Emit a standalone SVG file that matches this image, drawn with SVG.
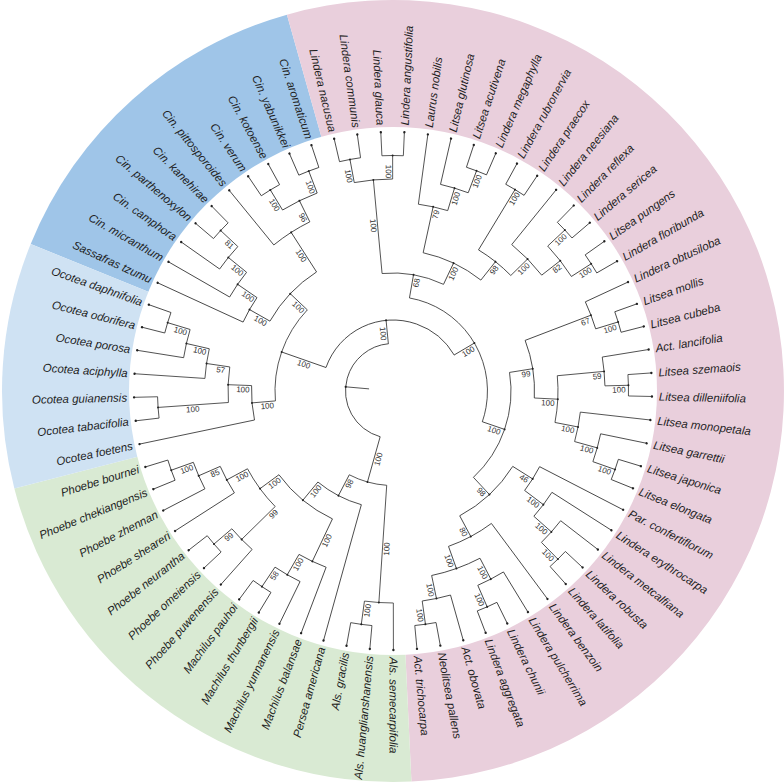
<svg xmlns="http://www.w3.org/2000/svg" xmlns:xlink="http://www.w3.org/1999/xlink" width="784" height="784" viewBox="0 0 784 784">
<style>
#connectors{fill:none;stroke:#333;stroke-width:0.8}
.d{fill:#222}
.t{font-family:"Liberation Sans",Arial,Helvetica,sans-serif;font-size:11.5px;font-style:italic;fill:#1e1e1e}
.tf{text-anchor:end}
.b{font-family:"Liberation Sans",Arial,Helvetica,sans-serif;font-size:8px;fill:#333;text-anchor:end}
.bf{text-anchor:middle}
</style>
<defs>
<path id="c0" d="M47.5 0A47.5 47.5 0 0 1 -47.5 0A47.5 47.5 0 0 1 47.5 0"/>
<path id="c1" d="M71 0A71 71 0 0 1 -71 0A71 71 0 0 1 71 0"/>
<path id="c2" d="M94.5 0A94.5 94.5 0 0 1 -94.5 0A94.5 94.5 0 0 1 94.5 0"/>
<path id="c3" d="M118 0A118 118 0 0 1 -118 0A118 118 0 0 1 118 0"/>
<path id="c4" d="M141.5 0A141.5 141.5 0 0 1 -141.5 0A141.5 141.5 0 0 1 141.5 0"/>
<path id="c5" d="M165 0A165 165 0 0 1 -165 0A165 165 0 0 1 165 0"/>
<path id="c6" d="M188.5 0A188.5 188.5 0 0 1 -188.5 0A188.5 188.5 0 0 1 188.5 0"/>
<path id="c7" d="M212 0A212 212 0 0 1 -212 0A212 212 0 0 1 212 0"/>
<path id="c8" d="M235.5 0A235.5 235.5 0 0 1 -235.5 0A235.5 235.5 0 0 1 235.5 0"/>
</defs>
<rect width="784" height="784" fill="#fff"/>
<g id="sectors" transform="translate(393 391)">
<path fill="#9FC5E8" d="M0 0L-362.32 -146.98A391 391 0 0 1 -106.07 -376.34Z"/>
<path fill="#E9CFDC" d="M0 0L-106.07 -376.34A391 391 0 1 1 18.42 390.57Z"/>
<path fill="#D9EAD3" d="M0 0L18.42 390.57A391 391 0 0 1 -378.65 97.5Z"/>
<path fill="#CFE2F3" d="M0 0L-378.65 97.5A391 391 0 0 1 -362.32 -146.98Z"/>
<circle r="264" fill="#fff"/>
</g>
<g id="connectors" transform="translate(393 391)">
<path d="M24 0H47.5" transform="rotate(185.05)"/>
<use xlink:href="#c0" transform="rotate(105.68)" stroke-dasharray="131.59 2000"/>
<use xlink:href="#c1" transform="rotate(199.31)" stroke-dasharray="161.33 2000"/>
<use xlink:href="#c2" transform="rotate(280.02)" stroke-dasharray="163.23 2000"/>
<use xlink:href="#c2" transform="rotate(93.82)" stroke-dasharray="39.13 2000"/>
<use xlink:href="#c3" transform="rotate(175.18)" stroke-dasharray="99.39 2000"/>
<use xlink:href="#c3" transform="rotate(264.69)" stroke-dasharray="63.13 2000"/>
<use xlink:href="#c3" transform="rotate(350.94)" stroke-dasharray="115.51 2000"/>
<use xlink:href="#c3" transform="rotate(105.56)" stroke-dasharray="49.36 2000"/>
<use xlink:href="#c4" transform="rotate(168.17)" stroke-dasharray="34.63 2000"/>
<use xlink:href="#c4" transform="rotate(209.58)" stroke-dasharray="68.45 2000"/>
<use xlink:href="#c4" transform="rotate(282.3)" stroke-dasharray="64.43 2000"/>
<use xlink:href="#c4" transform="rotate(339.04)" stroke-dasharray="58.79 2000"/>
<use xlink:href="#c4" transform="rotate(32.19)" stroke-dasharray="73.28 2000"/>
<use xlink:href="#c4" transform="rotate(115.34)" stroke-dasharray="70.06 2000"/>
<use xlink:href="#c5" transform="rotate(176)" stroke-dasharray="35.68 2000"/>
<use xlink:href="#c5" transform="rotate(204.69)" stroke-dasharray="28.17 2000"/>
<use xlink:href="#c5" transform="rotate(301.21)" stroke-dasharray="41.32 2000"/>
<use xlink:href="#c5" transform="rotate(354.69)" stroke-dasharray="46.95 2000"/>
<use xlink:href="#c5" transform="rotate(27.3)" stroke-dasharray="28.17 2000"/>
<use xlink:href="#c5" transform="rotate(53.39)" stroke-dasharray="48.83 2000"/>
<use xlink:href="#c5" transform="rotate(135.56)" stroke-dasharray="46.95 2000"/>
<use xlink:href="#c6" transform="rotate(183.82)" stroke-dasharray="30.04 2000"/>
<use xlink:href="#c6" transform="rotate(209.91)" stroke-dasharray="30.04 2000"/>
<use xlink:href="#c6" transform="rotate(230.78)" stroke-dasharray="42.91 2000"/>
<use xlink:href="#c6" transform="rotate(277.74)" stroke-dasharray="30.04 2000"/>
<use xlink:href="#c6" transform="rotate(309.04)" stroke-dasharray="42.91 2000"/>
<use xlink:href="#c6" transform="rotate(6.43)" stroke-dasharray="30.04 2000"/>
<use xlink:href="#c6" transform="rotate(32.52)" stroke-dasharray="30.04 2000"/>
<use xlink:href="#c6" transform="rotate(62.52)" stroke-dasharray="51.49 2000"/>
<use xlink:href="#c6" transform="rotate(110.78)" stroke-dasharray="30.04 2000"/>
<use xlink:href="#c6" transform="rotate(147.3)" stroke-dasharray="30.04 2000"/>
<use xlink:href="#c7" transform="rotate(189.04)" stroke-dasharray="28.96 2000"/>
<use xlink:href="#c7" transform="rotate(215.13)" stroke-dasharray="28.96 2000"/>
<use xlink:href="#c7" transform="rotate(238.61)" stroke-dasharray="38.61 2000"/>
<use xlink:href="#c7" transform="rotate(259.47)" stroke-dasharray="38.61 2000"/>
<use xlink:href="#c7" transform="rotate(282.95)" stroke-dasharray="28.96 2000"/>
<use xlink:href="#c7" transform="rotate(316.87)" stroke-dasharray="38.61 2000"/>
<use xlink:href="#c7" transform="rotate(335.13)" stroke-dasharray="28.96 2000"/>
<use xlink:href="#c7" transform="rotate(350.78)" stroke-dasharray="28.96 2000"/>
<use xlink:href="#c7" transform="rotate(11.65)" stroke-dasharray="28.96 2000"/>
<use xlink:href="#c7" transform="rotate(37.73)" stroke-dasharray="28.96 2000"/>
<use xlink:href="#c7" transform="rotate(58.6)" stroke-dasharray="28.96 2000"/>
<use xlink:href="#c7" transform="rotate(74.26)" stroke-dasharray="28.96 2000"/>
<use xlink:href="#c7" transform="rotate(89.91)" stroke-dasharray="28.96 2000"/>
<use xlink:href="#c7" transform="rotate(116)" stroke-dasharray="28.96 2000"/>
<use xlink:href="#c7" transform="rotate(131.65)" stroke-dasharray="28.96 2000"/>
<use xlink:href="#c7" transform="rotate(152.52)" stroke-dasharray="28.96 2000"/>
<use xlink:href="#c8" transform="rotate(173.39)" stroke-dasharray="21.44 2000"/>
<use xlink:href="#c8" transform="rotate(194.26)" stroke-dasharray="21.44 2000"/>
<use xlink:href="#c8" transform="rotate(220.34)" stroke-dasharray="21.44 2000"/>
<use xlink:href="#c8" transform="rotate(236)" stroke-dasharray="21.44 2000"/>
<use xlink:href="#c8" transform="rotate(246.43)" stroke-dasharray="21.44 2000"/>
<use xlink:href="#c8" transform="rotate(256.87)" stroke-dasharray="21.44 2000"/>
<use xlink:href="#c8" transform="rotate(267.3)" stroke-dasharray="21.44 2000"/>
<use xlink:href="#c8" transform="rotate(288.17)" stroke-dasharray="21.44 2000"/>
<use xlink:href="#c8" transform="rotate(298.6)" stroke-dasharray="21.44 2000"/>
<use xlink:href="#c8" transform="rotate(314.26)" stroke-dasharray="21.44 2000"/>
<use xlink:href="#c8" transform="rotate(324.69)" stroke-dasharray="21.44 2000"/>
<use xlink:href="#c8" transform="rotate(340.34)" stroke-dasharray="21.44 2000"/>
<use xlink:href="#c8" transform="rotate(356)" stroke-dasharray="21.44 2000"/>
<use xlink:href="#c8" transform="rotate(16.87)" stroke-dasharray="21.44 2000"/>
<use xlink:href="#c8" transform="rotate(42.95)" stroke-dasharray="21.44 2000"/>
<use xlink:href="#c8" transform="rotate(63.82)" stroke-dasharray="21.44 2000"/>
<use xlink:href="#c8" transform="rotate(79.47)" stroke-dasharray="21.44 2000"/>
<use xlink:href="#c8" transform="rotate(95.13)" stroke-dasharray="21.44 2000"/>
<use xlink:href="#c8" transform="rotate(121.21)" stroke-dasharray="21.44 2000"/>
<use xlink:href="#c8" transform="rotate(136.87)" stroke-dasharray="21.44 2000"/>
<use xlink:href="#c8" transform="rotate(157.73)" stroke-dasharray="21.44 2000"/>
<path d="M165 0H235.5" transform="rotate(176)"/>
<path d="M212 0H235.5" transform="rotate(196.87)"/>
<path d="M188.5 0H212" transform="rotate(192.95)"/>
<path d="M165 0H188.5" transform="rotate(188.39)"/>
<path d="M141.5 0H165" transform="rotate(182.19)"/>
<path d="M118 0H141.5" transform="rotate(175.18)"/>
<path d="M212 0H235.5" transform="rotate(222.95)"/>
<path d="M188.5 0H212" transform="rotate(219.04)"/>
<path d="M165 0H188.5" transform="rotate(214.47)"/>
<path d="M141.5 0H165" transform="rotate(209.58)"/>
<path d="M212 0H235.5" transform="rotate(238.61)"/>
<path d="M212 0H235.5" transform="rotate(249.04)"/>
<path d="M188.5 0H212" transform="rotate(243.82)"/>
<path d="M141.5 0H188.5" transform="rotate(237.3)"/>
<path d="M118 0H141.5" transform="rotate(223.44)"/>
<path d="M71 0H118" transform="rotate(199.31)"/>
<path d="M212 0H235.5" transform="rotate(259.47)"/>
<path d="M212 0H235.5" transform="rotate(269.91)"/>
<path d="M118 0H212" transform="rotate(264.69)"/>
<path d="M212 0H235.5" transform="rotate(290.78)"/>
<path d="M188.5 0H212" transform="rotate(286.87)"/>
<path d="M141.5 0H188.5" transform="rotate(282.3)"/>
<path d="M165 0H235.5" transform="rotate(301.21)"/>
<path d="M212 0H235.5" transform="rotate(316.87)"/>
<path d="M212 0H235.5" transform="rotate(327.3)"/>
<path d="M188.5 0H212" transform="rotate(322.08)"/>
<path d="M165 0H188.5" transform="rotate(315.56)"/>
<path d="M141.5 0H165" transform="rotate(308.39)"/>
<path d="M118 0H141.5" transform="rotate(295.34)"/>
<path d="M94.5 0H118" transform="rotate(280.02)"/>
<path d="M212 0H235.5" transform="rotate(342.95)"/>
<path d="M141.5 0H212" transform="rotate(339.04)"/>
<path d="M212 0H235.5" transform="rotate(358.61)"/>
<path d="M165 0H212" transform="rotate(354.69)"/>
<path d="M212 0H235.5" transform="rotate(19.47)"/>
<path d="M188.5 0H212" transform="rotate(15.56)"/>
<path d="M165 0H188.5" transform="rotate(11)"/>
<path d="M141.5 0H165" transform="rotate(2.84)"/>
<path d="M118 0H141.5" transform="rotate(350.94)"/>
<path d="M212 0H235.5" transform="rotate(45.56)"/>
<path d="M188.5 0H212" transform="rotate(41.65)"/>
<path d="M165 0H188.5" transform="rotate(37.08)"/>
<path d="M141.5 0H165" transform="rotate(32.19)"/>
<path d="M212 0H235.5" transform="rotate(66.43)"/>
<path d="M188.5 0H212" transform="rotate(62.52)"/>
<path d="M212 0H235.5" transform="rotate(82.08)"/>
<path d="M188.5 0H212" transform="rotate(78.17)"/>
<path d="M165 0H188.5" transform="rotate(70.34)"/>
<path d="M141.5 0H165" transform="rotate(61.87)"/>
<path d="M118 0H141.5" transform="rotate(47.03)"/>
<path d="M94.5 0H118" transform="rotate(18.99)"/>
<path d="M71 0H94.5" transform="rotate(329.5)"/>
<path d="M47.5 0H71" transform="rotate(264.41)"/>
<path d="M212 0H235.5" transform="rotate(97.74)"/>
<path d="M94.5 0H212" transform="rotate(93.82)"/>
<path d="M212 0H235.5" transform="rotate(123.82)"/>
<path d="M188.5 0H212" transform="rotate(119.91)"/>
<path d="M141.5 0H188.5" transform="rotate(115.34)"/>
<path d="M212 0H235.5" transform="rotate(139.47)"/>
<path d="M165 0H212" transform="rotate(135.56)"/>
<path d="M212 0H235.5" transform="rotate(160.34)"/>
<path d="M188.5 0H212" transform="rotate(156.43)"/>
<path d="M165 0H188.5" transform="rotate(151.87)"/>
<path d="M141.5 0H165" transform="rotate(143.71)"/>
<path d="M118 0H141.5" transform="rotate(129.53)"/>
<path d="M94.5 0H118" transform="rotate(117.55)"/>
<path d="M47.5 0H94.5" transform="rotate(105.68)"/>
<path d="M141.5 0H259" transform="rotate(168.17)"/>
<path d="M235.5 0H259" transform="rotate(173.39)"/>
<path d="M235.5 0H259" transform="rotate(178.6)"/>
<path d="M188.5 0H259" transform="rotate(183.82)"/>
<path d="M212 0H259" transform="rotate(189.04)"/>
<path d="M235.5 0H259" transform="rotate(194.26)"/>
<path d="M235.5 0H259" transform="rotate(199.47)"/>
<path d="M165 0H259" transform="rotate(204.69)"/>
<path d="M188.5 0H259" transform="rotate(209.91)"/>
<path d="M212 0H259" transform="rotate(215.13)"/>
<path d="M235.5 0H259" transform="rotate(220.34)"/>
<path d="M235.5 0H259" transform="rotate(225.56)"/>
<path d="M188.5 0H259" transform="rotate(230.78)"/>
<path d="M235.5 0H259" transform="rotate(236)"/>
<path d="M235.5 0H259" transform="rotate(241.21)"/>
<path d="M235.5 0H259" transform="rotate(246.43)"/>
<path d="M235.5 0H259" transform="rotate(251.65)"/>
<path d="M235.5 0H259" transform="rotate(256.87)"/>
<path d="M235.5 0H259" transform="rotate(262.08)"/>
<path d="M235.5 0H259" transform="rotate(267.3)"/>
<path d="M235.5 0H259" transform="rotate(272.52)"/>
<path d="M188.5 0H259" transform="rotate(277.74)"/>
<path d="M212 0H259" transform="rotate(282.95)"/>
<path d="M235.5 0H259" transform="rotate(288.17)"/>
<path d="M235.5 0H259" transform="rotate(293.39)"/>
<path d="M235.5 0H259" transform="rotate(298.6)"/>
<path d="M235.5 0H259" transform="rotate(303.82)"/>
<path d="M188.5 0H259" transform="rotate(309.04)"/>
<path d="M235.5 0H259" transform="rotate(314.26)"/>
<path d="M235.5 0H259" transform="rotate(319.47)"/>
<path d="M235.5 0H259" transform="rotate(324.69)"/>
<path d="M235.5 0H259" transform="rotate(329.91)"/>
<path d="M212 0H259" transform="rotate(335.13)"/>
<path d="M235.5 0H259" transform="rotate(340.34)"/>
<path d="M235.5 0H259" transform="rotate(345.56)"/>
<path d="M212 0H259" transform="rotate(350.78)"/>
<path d="M235.5 0H259" transform="rotate(356)"/>
<path d="M235.5 0H259" transform="rotate(1.21)"/>
<path d="M188.5 0H259" transform="rotate(6.43)"/>
<path d="M212 0H259" transform="rotate(11.65)"/>
<path d="M235.5 0H259" transform="rotate(16.87)"/>
<path d="M235.5 0H259" transform="rotate(22.08)"/>
<path d="M165 0H259" transform="rotate(27.3)"/>
<path d="M188.5 0H259" transform="rotate(32.52)"/>
<path d="M212 0H259" transform="rotate(37.73)"/>
<path d="M235.5 0H259" transform="rotate(42.95)"/>
<path d="M235.5 0H259" transform="rotate(48.17)"/>
<path d="M165 0H259" transform="rotate(53.39)"/>
<path d="M212 0H259" transform="rotate(58.6)"/>
<path d="M235.5 0H259" transform="rotate(63.82)"/>
<path d="M235.5 0H259" transform="rotate(69.04)"/>
<path d="M212 0H259" transform="rotate(74.26)"/>
<path d="M235.5 0H259" transform="rotate(79.47)"/>
<path d="M235.5 0H259" transform="rotate(84.69)"/>
<path d="M212 0H259" transform="rotate(89.91)"/>
<path d="M235.5 0H259" transform="rotate(95.13)"/>
<path d="M235.5 0H259" transform="rotate(100.34)"/>
<path d="M118 0H259" transform="rotate(105.56)"/>
<path d="M188.5 0H259" transform="rotate(110.78)"/>
<path d="M212 0H259" transform="rotate(116)"/>
<path d="M235.5 0H259" transform="rotate(121.21)"/>
<path d="M235.5 0H259" transform="rotate(126.43)"/>
<path d="M212 0H259" transform="rotate(131.65)"/>
<path d="M235.5 0H259" transform="rotate(136.87)"/>
<path d="M235.5 0H259" transform="rotate(142.08)"/>
<path d="M188.5 0H259" transform="rotate(147.3)"/>
<path d="M212 0H259" transform="rotate(152.52)"/>
<path d="M235.5 0H259" transform="rotate(157.73)"/>
<path d="M235.5 0H259" transform="rotate(162.95)"/>
</g>
<g id="tips" transform="translate(393 391)">
<g id="tip-ocotea-foetens" transform="rotate(168.17)"><circle class="d" cx="259" r="1.2"/><text class="t tf" x="-266" y="4" transform="rotate(180)">Ocotea foetens</text></g>
<g id="tip-ocotea-tabacifolia" transform="rotate(173.39)"><circle class="d" cx="259" r="1.2"/><text class="t tf" x="-266" y="4" transform="rotate(180)">Ocotea tabacifolia</text></g>
<g id="tip-ocotea-guianensis" transform="rotate(178.6)"><circle class="d" cx="259" r="1.2"/><text class="t tf" x="-266" y="4" transform="rotate(180)">Ocotea guianensis</text></g>
<g id="tip-ocotea-aciphylla" transform="rotate(183.82)"><circle class="d" cx="259" r="1.2"/><text class="t tf" x="-266" y="4" transform="rotate(180)">Ocotea aciphylla</text></g>
<g id="tip-ocotea-porosa" transform="rotate(189.04)"><circle class="d" cx="259" r="1.2"/><text class="t tf" x="-266" y="4" transform="rotate(180)">Ocotea porosa</text></g>
<g id="tip-ocotea-odorifera" transform="rotate(194.26)"><circle class="d" cx="259" r="1.2"/><text class="t tf" x="-266" y="4" transform="rotate(180)">Ocotea odorifera</text></g>
<g id="tip-ocotea-daphnifolia" transform="rotate(199.47)"><circle class="d" cx="259" r="1.2"/><text class="t tf" x="-266" y="4" transform="rotate(180)">Ocotea daphnifolia</text></g>
<g id="tip-sassafras-tzumu" transform="rotate(204.69)"><circle class="d" cx="259" r="1.2"/><text class="t tf" x="-266" y="4" transform="rotate(180)">Sassafras tzumu</text></g>
<g id="tip-cin-micranthum" transform="rotate(209.91)"><circle class="d" cx="259" r="1.2"/><text class="t tf" x="-266" y="4" transform="rotate(180)">Cin. micranthum</text></g>
<g id="tip-cin-camphora" transform="rotate(215.13)"><circle class="d" cx="259" r="1.2"/><text class="t tf" x="-266" y="4" transform="rotate(180)">Cin. camphora</text></g>
<g id="tip-cin-parthenoxylon" transform="rotate(220.34)"><circle class="d" cx="259" r="1.2"/><text class="t tf" x="-266" y="4" transform="rotate(180)">Cin. parthenoxylon</text></g>
<g id="tip-cin-kanehirae" transform="rotate(225.56)"><circle class="d" cx="259" r="1.2"/><text class="t tf" x="-266" y="4" transform="rotate(180)">Cin. kanehirae</text></g>
<g id="tip-cin-pittosporoides" transform="rotate(230.78)"><circle class="d" cx="259" r="1.2"/><text class="t tf" x="-266" y="4" transform="rotate(180)">Cin. pittosporoides</text></g>
<g id="tip-cin-verum" transform="rotate(236)"><circle class="d" cx="259" r="1.2"/><text class="t tf" x="-266" y="4" transform="rotate(180)">Cin. verum</text></g>
<g id="tip-cin-kotoense" transform="rotate(241.21)"><circle class="d" cx="259" r="1.2"/><text class="t tf" x="-266" y="4" transform="rotate(180)">Cin. kotoense</text></g>
<g id="tip-cin-yabunikkei" transform="rotate(246.43)"><circle class="d" cx="259" r="1.2"/><text class="t tf" x="-266" y="4" transform="rotate(180)">Cin. yabunikkei</text></g>
<g id="tip-cin-aromaticum" transform="rotate(251.65)"><circle class="d" cx="259" r="1.2"/><text class="t tf" x="-266" y="4" transform="rotate(180)">Cin. aromaticum</text></g>
<g id="tip-lindera-nacusua" transform="rotate(256.87)"><circle class="d" cx="259" r="1.2"/><text class="t tf" x="-266" y="4" transform="rotate(180)">Lindera nacusua</text></g>
<g id="tip-lindera-communis" transform="rotate(262.08)"><circle class="d" cx="259" r="1.2"/><text class="t tf" x="-266" y="4" transform="rotate(180)">Lindera communis</text></g>
<g id="tip-lindera-glauca" transform="rotate(267.3)"><circle class="d" cx="259" r="1.2"/><text class="t tf" x="-266" y="4" transform="rotate(180)">Lindera glauca</text></g>
<g id="tip-lindera-angustifolia" transform="rotate(272.52)"><circle class="d" cx="259" r="1.2"/><text class="t" x="266" y="4">Lindera angustifolia</text></g>
<g id="tip-laurus-nobilis" transform="rotate(277.74)"><circle class="d" cx="259" r="1.2"/><text class="t" x="266" y="4">Laurus nobilis</text></g>
<g id="tip-litsea-glutinosa" transform="rotate(282.95)"><circle class="d" cx="259" r="1.2"/><text class="t" x="266" y="4">Litsea glutinosa</text></g>
<g id="tip-litsea-acutivena" transform="rotate(288.17)"><circle class="d" cx="259" r="1.2"/><text class="t" x="266" y="4">Litsea acutivena</text></g>
<g id="tip-lindera-megaphylla" transform="rotate(293.39)"><circle class="d" cx="259" r="1.2"/><text class="t" x="266" y="4">Lindera megaphylla</text></g>
<g id="tip-lindera-rubronervia" transform="rotate(298.6)"><circle class="d" cx="259" r="1.2"/><text class="t" x="266" y="4">Lindera rubronervia</text></g>
<g id="tip-lindera-praecox" transform="rotate(303.82)"><circle class="d" cx="259" r="1.2"/><text class="t" x="266" y="4">Lindera praecox</text></g>
<g id="tip-lindera-neesiana" transform="rotate(309.04)"><circle class="d" cx="259" r="1.2"/><text class="t" x="266" y="4">Lindera neesiana</text></g>
<g id="tip-lindera-reflexa" transform="rotate(314.26)"><circle class="d" cx="259" r="1.2"/><text class="t" x="266" y="4">Lindera reflexa</text></g>
<g id="tip-lindera-sericea" transform="rotate(319.47)"><circle class="d" cx="259" r="1.2"/><text class="t" x="266" y="4">Lindera sericea</text></g>
<g id="tip-litsea-pungens" transform="rotate(324.69)"><circle class="d" cx="259" r="1.2"/><text class="t" x="266" y="4">Litsea pungens</text></g>
<g id="tip-lindera-floribunda" transform="rotate(329.91)"><circle class="d" cx="259" r="1.2"/><text class="t" x="266" y="4">Lindera floribunda</text></g>
<g id="tip-lindera-obtusiloba" transform="rotate(335.13)"><circle class="d" cx="259" r="1.2"/><text class="t" x="266" y="4">Lindera obtusiloba</text></g>
<g id="tip-litsea-mollis" transform="rotate(340.34)"><circle class="d" cx="259" r="1.2"/><text class="t" x="266" y="4">Litsea mollis</text></g>
<g id="tip-litsea-cubeba" transform="rotate(345.56)"><circle class="d" cx="259" r="1.2"/><text class="t" x="266" y="4">Litsea cubeba</text></g>
<g id="tip-act-lancifolia" transform="rotate(350.78)"><circle class="d" cx="259" r="1.2"/><text class="t" x="266" y="4">Act. lancifolia</text></g>
<g id="tip-litsea-szemaois" transform="rotate(356)"><circle class="d" cx="259" r="1.2"/><text class="t" x="266" y="4">Litsea szemaois</text></g>
<g id="tip-litsea-dilleniifolia" transform="rotate(1.21)"><circle class="d" cx="259" r="1.2"/><text class="t" x="266" y="4">Litsea dilleniifolia</text></g>
<g id="tip-litsea-monopetala" transform="rotate(6.43)"><circle class="d" cx="259" r="1.2"/><text class="t" x="266" y="4">Litsea monopetala</text></g>
<g id="tip-litsea-garrettii" transform="rotate(11.65)"><circle class="d" cx="259" r="1.2"/><text class="t" x="266" y="4">Litsea garrettii</text></g>
<g id="tip-litsea-japonica" transform="rotate(16.87)"><circle class="d" cx="259" r="1.2"/><text class="t" x="266" y="4">Litsea japonica</text></g>
<g id="tip-litsea-elongata" transform="rotate(22.08)"><circle class="d" cx="259" r="1.2"/><text class="t" x="266" y="4">Litsea elongata</text></g>
<g id="tip-par-confertiflorum" transform="rotate(27.3)"><circle class="d" cx="259" r="1.2"/><text class="t" x="266" y="4">Par. confertiflorum</text></g>
<g id="tip-lindera-erythrocarpa" transform="rotate(32.52)"><circle class="d" cx="259" r="1.2"/><text class="t" x="266" y="4">Lindera erythrocarpa</text></g>
<g id="tip-lindera-metcalfiana" transform="rotate(37.73)"><circle class="d" cx="259" r="1.2"/><text class="t" x="266" y="4">Lindera metcalfiana</text></g>
<g id="tip-lindera-robusta" transform="rotate(42.95)"><circle class="d" cx="259" r="1.2"/><text class="t" x="266" y="4">Lindera robusta</text></g>
<g id="tip-lindera-latifolia" transform="rotate(48.17)"><circle class="d" cx="259" r="1.2"/><text class="t" x="266" y="4">Lindera latifolia</text></g>
<g id="tip-lindera-benzoin" transform="rotate(53.39)"><circle class="d" cx="259" r="1.2"/><text class="t" x="266" y="4">Lindera benzoin</text></g>
<g id="tip-lindera-pulcherrima" transform="rotate(58.6)"><circle class="d" cx="259" r="1.2"/><text class="t" x="266" y="4">Lindera pulcherrima</text></g>
<g id="tip-lindera-chunii" transform="rotate(63.82)"><circle class="d" cx="259" r="1.2"/><text class="t" x="266" y="4">Lindera chunii</text></g>
<g id="tip-lindera-aggregata" transform="rotate(69.04)"><circle class="d" cx="259" r="1.2"/><text class="t" x="266" y="4">Lindera aggregata</text></g>
<g id="tip-act-obovata" transform="rotate(74.26)"><circle class="d" cx="259" r="1.2"/><text class="t" x="266" y="4">Act. obovata</text></g>
<g id="tip-neolitsea-pallens" transform="rotate(79.47)"><circle class="d" cx="259" r="1.2"/><text class="t" x="266" y="4">Neolitsea pallens</text></g>
<g id="tip-act-trichocarpa" transform="rotate(84.69)"><circle class="d" cx="259" r="1.2"/><text class="t" x="266" y="4">Act. trichocarpa</text></g>
<g id="tip-als-semecarpifolia" transform="rotate(89.91)"><circle class="d" cx="259" r="1.2"/><text class="t" x="266" y="4">Als. semecarpifolia</text></g>
<g id="tip-als-huanglianshanensis" transform="rotate(95.13)"><circle class="d" cx="259" r="1.2"/><text class="t tf" x="-266" y="4" transform="rotate(180)">Als. huanglianshanensis</text></g>
<g id="tip-als-gracilis" transform="rotate(100.34)"><circle class="d" cx="259" r="1.2"/><text class="t tf" x="-266" y="4" transform="rotate(180)">Als. gracilis</text></g>
<g id="tip-persea-americana" transform="rotate(105.56)"><circle class="d" cx="259" r="1.2"/><text class="t tf" x="-266" y="4" transform="rotate(180)">Persea americana</text></g>
<g id="tip-machilus-balansae" transform="rotate(110.78)"><circle class="d" cx="259" r="1.2"/><text class="t tf" x="-266" y="4" transform="rotate(180)">Machilus balansae</text></g>
<g id="tip-machilus-yunnanensis" transform="rotate(116)"><circle class="d" cx="259" r="1.2"/><text class="t tf" x="-266" y="4" transform="rotate(180)">Machilus yunnanensis</text></g>
<g id="tip-machilus-thunbergii" transform="rotate(121.21)"><circle class="d" cx="259" r="1.2"/><text class="t tf" x="-266" y="4" transform="rotate(180)">Machilus thunbergii</text></g>
<g id="tip-machilus-pauhoi" transform="rotate(126.43)"><circle class="d" cx="259" r="1.2"/><text class="t tf" x="-266" y="4" transform="rotate(180)">Machilus pauhoi</text></g>
<g id="tip-phoebe-puwenensis" transform="rotate(131.65)"><circle class="d" cx="259" r="1.2"/><text class="t tf" x="-266" y="4" transform="rotate(180)">Phoebe puwenensis</text></g>
<g id="tip-phoebe-omeiensis" transform="rotate(136.87)"><circle class="d" cx="259" r="1.2"/><text class="t tf" x="-266" y="4" transform="rotate(180)">Phoebe omeiensis</text></g>
<g id="tip-phoebe-neurantha" transform="rotate(142.08)"><circle class="d" cx="259" r="1.2"/><text class="t tf" x="-266" y="4" transform="rotate(180)">Phoebe neurantha</text></g>
<g id="tip-phoebe-sheareri" transform="rotate(147.3)"><circle class="d" cx="259" r="1.2"/><text class="t tf" x="-266" y="4" transform="rotate(180)">Phoebe sheareri</text></g>
<g id="tip-phoebe-zhennan" transform="rotate(152.52)"><circle class="d" cx="259" r="1.2"/><text class="t tf" x="-266" y="4" transform="rotate(180)">Phoebe zhennan</text></g>
<g id="tip-phoebe-chekiangensis" transform="rotate(157.73)"><circle class="d" cx="259" r="1.2"/><text class="t tf" x="-266" y="4" transform="rotate(180)">Phoebe chekiangensis</text></g>
<g id="tip-phoebe-bournei" transform="rotate(162.95)"><circle class="d" cx="259" r="1.2"/><text class="t tf" x="-266" y="4" transform="rotate(180)">Phoebe bournei</text></g>
</g>
<g id="internal-nodes" transform="translate(393 391)">
<g id="node-root" transform="rotate(185.05)"><circle class="d" cx="47.5" r="1.1"/></g>
<g id="node-o-tg" transform="rotate(176)"><circle class="d" cx="235.5" r="1"/><text class="b bf" x="-201" y="7" transform="rotate(180)">100</text></g>
<g id="node-o-od" transform="rotate(196.87)"><circle class="d" cx="235.5" r="1"/><text class="b bf" x="-220.75" y="7" transform="rotate(180)">100</text></g>
<g id="node-o-p" transform="rotate(192.95)"><circle class="d" cx="212" r="1"/><text class="b bf" x="-197.25" y="7" transform="rotate(180)">100</text></g>
<g id="node-o57" transform="rotate(188.39)"><circle class="d" cx="188.5" r="1"/><text class="b bf" x="-173.5" y="7" transform="rotate(180)">57</text></g>
<g id="node-no2" transform="rotate(182.19)"><circle class="d" cx="165" r="1"/><text class="b bf" x="-150" y="7" transform="rotate(180)">100</text></g>
<g id="node-no" transform="rotate(175.18)"><circle class="d" cx="141.5" r="1"/><text class="b bf" x="-126.5" y="7" transform="rotate(180)">100</text></g>
<g id="node-c81" transform="rotate(222.95)"><circle class="d" cx="235.5" r="1"/><text class="b bf" x="-219.5" y="7" transform="rotate(180)">81</text></g>
<g id="node-c-c" transform="rotate(219.04)"><circle class="d" cx="212" r="1"/><text class="b bf" x="-197" y="7" transform="rotate(180)">100</text></g>
<g id="node-c-m" transform="rotate(214.47)"><circle class="d" cx="188.5" r="1"/><text class="b bf" x="-173" y="7" transform="rotate(180)">100</text></g>
<g id="node-ns" transform="rotate(209.58)"><circle class="d" cx="165" r="1"/><text class="b bf" x="-150" y="7" transform="rotate(180)">100</text></g>
<g id="node-c-vk" transform="rotate(238.61)"><circle class="d" cx="235.5" r="1"/><text class="b bf" x="-220.5" y="7" transform="rotate(180)">100</text></g>
<g id="node-c-ya" transform="rotate(249.04)"><circle class="d" cx="235.5" r="1"/><text class="b bf" x="-220" y="7" transform="rotate(180)">100</text></g>
<g id="node-c96" transform="rotate(243.82)"><circle class="d" cx="212" r="1"/><text class="b bf" x="-195.5" y="7" transform="rotate(180)">96</text></g>
<g id="node-nca" transform="rotate(237.3)"><circle class="d" cx="188.5" r="1"/><text class="b bf" x="-163.5" y="7" transform="rotate(180)">100</text></g>
<g id="node-nc" transform="rotate(223.44)"><circle class="d" cx="141.5" r="1"/><text class="b bf" x="-126.5" y="7" transform="rotate(180)">100</text></g>
<g id="node-nl" transform="rotate(199.31)"><circle class="d" cx="118" r="1"/><text class="b bf" x="-93" y="7" transform="rotate(180)">100</text></g>
<g id="node-l-nc" transform="rotate(259.47)"><circle class="d" cx="235.5" r="1"/><text class="b bf" x="-219.5" y="7" transform="rotate(180)">100</text></g>
<g id="node-l-ga" transform="rotate(269.91)"><circle class="d" cx="235.5" r="1"/><text class="b bf" x="-219.5" y="7" transform="rotate(180)">100</text></g>
<g id="node-nl68" transform="rotate(264.69)"><circle class="d" cx="212" r="1"/><text class="b bf" x="-166.5" y="7" transform="rotate(180)">100</text></g>
<g id="node-l-am" transform="rotate(290.78)"><circle class="d" cx="235.5" r="1"/><text class="b" x="232.5" y="7">100</text></g>
<g id="node-l-g" transform="rotate(286.87)"><circle class="d" cx="212" r="1"/><text class="b" x="209" y="7">100</text></g>
<g id="node-n79" transform="rotate(282.3)"><circle class="d" cx="188.5" r="1"/><text class="b" x="186" y="7">79</text></g>
<g id="node-l-rp" transform="rotate(301.21)"><circle class="d" cx="235.5" r="1"/><text class="b" x="234" y="7">100</text></g>
<g id="node-l-rs" transform="rotate(316.87)"><circle class="d" cx="235.5" r="1"/><text class="b" x="232.5" y="7">100</text></g>
<g id="node-l-pf" transform="rotate(327.3)"><circle class="d" cx="235.5" r="1"/><text class="b" x="232.5" y="7">100</text></g>
<g id="node-n82" transform="rotate(322.08)"><circle class="d" cx="212" r="1"/><text class="b" x="209" y="7">82</text></g>
<g id="node-n316" transform="rotate(315.56)"><circle class="d" cx="188.5" r="1"/><text class="b" x="185.5" y="7">100</text></g>
<g id="node-n98a" transform="rotate(308.39)"><circle class="d" cx="165" r="1"/><text class="b" x="162" y="7">98</text></g>
<g id="node-nr68" transform="rotate(295.34)"><circle class="d" cx="141.5" r="1"/><text class="b" x="138.5" y="7">100</text></g>
<g id="node-n68" transform="rotate(280.02)"><circle class="d" cx="118" r="1"/><text class="b" x="115" y="7">68</text></g>
<g id="node-l-mc" transform="rotate(342.95)"><circle class="d" cx="235.5" r="1"/><text class="b" x="232.5" y="7">100</text></g>
<g id="node-n67" transform="rotate(339.04)"><circle class="d" cx="212" r="1"/><text class="b" x="209" y="7">67</text></g>
<g id="node-l-sd" transform="rotate(358.61)"><circle class="d" cx="235.5" r="1"/><text class="b" x="232.5" y="7">100</text></g>
<g id="node-n59" transform="rotate(354.69)"><circle class="d" cx="212" r="1"/><text class="b" x="209" y="7">59</text></g>
<g id="node-l-je" transform="rotate(19.47)"><circle class="d" cx="235.5" r="1"/><text class="b" x="232.5" y="7">100</text></g>
<g id="node-l-g2" transform="rotate(15.56)"><circle class="d" cx="212" r="1"/><text class="b" x="209" y="7">100</text></g>
<g id="node-l-m" transform="rotate(11)"><circle class="d" cx="188.5" r="1"/><text class="b" x="185.5" y="7">100</text></g>
<g id="node-n100c" transform="rotate(2.84)"><circle class="d" cx="165" r="1"/><text class="b" x="162" y="7">100</text></g>
<g id="node-n99" transform="rotate(350.94)"><circle class="d" cx="141.5" r="1"/><text class="b" x="138.5" y="7">99</text></g>
<g id="node-l-rl" transform="rotate(45.56)"><circle class="d" cx="235.5" r="1"/><text class="b" x="232.5" y="7">100</text></g>
<g id="node-l-me" transform="rotate(41.65)"><circle class="d" cx="212" r="1"/><text class="b" x="209" y="7">100</text></g>
<g id="node-l-er" transform="rotate(37.08)"><circle class="d" cx="188.5" r="1"/><text class="b" x="185.5" y="7">100</text></g>
<g id="node-n46" transform="rotate(32.19)"><circle class="d" cx="165" r="1"/><text class="b" x="162" y="7">46</text></g>
<g id="node-l-ca" transform="rotate(66.43)"><circle class="d" cx="235.5" r="1"/><text class="b" x="232.5" y="7">100</text></g>
<g id="node-l-pu" transform="rotate(62.52)"><circle class="d" cx="212" r="1"/><text class="b" x="209" y="7">100</text></g>
<g id="node-l-nt" transform="rotate(82.08)"><circle class="d" cx="235.5" r="1"/><text class="b" x="232.5" y="7">100</text></g>
<g id="node-l-ob" transform="rotate(78.17)"><circle class="d" cx="212" r="1"/><text class="b" x="209" y="7">100</text></g>
<g id="node-l-70" transform="rotate(70.34)"><circle class="d" cx="188.5" r="1"/><text class="b" x="185.5" y="7">100</text></g>
<g id="node-n80" transform="rotate(61.87)"><circle class="d" cx="165" r="1"/><text class="b" x="162" y="7">80</text></g>
<g id="node-n98b" transform="rotate(47.03)"><circle class="d" cx="141.5" r="1"/><text class="b" x="138.5" y="7">98</text></g>
<g id="node-n100b" transform="rotate(18.99)"><circle class="d" cx="118" r="1"/><text class="b" x="115" y="7">100</text></g>
<g id="node-nr" transform="rotate(329.5)"><circle class="d" cx="94.5" r="1"/><text class="b" x="91.5" y="7">100</text></g>
<g id="node-a" transform="rotate(264.41)"><circle class="d" cx="71" r="1"/><text class="b bf" x="-58" y="7" transform="rotate(180)">100</text></g>
<g id="node-n2" transform="rotate(97.74)"><circle class="d" cx="235.5" r="1"/><text class="b bf" x="-221" y="7" transform="rotate(180)">100</text></g>
<g id="node-n1" transform="rotate(93.82)"><circle class="d" cx="212" r="1"/><text class="b bf" x="-158" y="7" transform="rotate(180)">100</text></g>
<g id="node-n8" transform="rotate(123.82)"><circle class="d" cx="235.5" r="1"/><text class="b bf" x="-219.5" y="7" transform="rotate(180)">58</text></g>
<g id="node-n7" transform="rotate(119.91)"><circle class="d" cx="212" r="1"/><text class="b bf" x="-197.5" y="7" transform="rotate(180)">100</text></g>
<g id="node-n5" transform="rotate(115.34)"><circle class="d" cx="188.5" r="1"/><text class="b bf" x="-163.5" y="7" transform="rotate(180)">100</text></g>
<g id="node-n11" transform="rotate(139.47)"><circle class="d" cx="235.5" r="1"/><text class="b bf" x="-219.5" y="7" transform="rotate(180)">99</text></g>
<g id="node-n9" transform="rotate(135.56)"><circle class="d" cx="212" r="1"/><text class="b bf" x="-171.5" y="7" transform="rotate(180)">99</text></g>
<g id="node-n13" transform="rotate(160.34)"><circle class="d" cx="235.5" r="1"/><text class="b bf" x="-220.5" y="7" transform="rotate(180)">100</text></g>
<g id="node-n12" transform="rotate(156.43)"><circle class="d" cx="212" r="1"/><text class="b bf" x="-196" y="7" transform="rotate(180)">85</text></g>
<g id="node-n10" transform="rotate(151.87)"><circle class="d" cx="188.5" r="1"/><text class="b bf" x="-173.5" y="7" transform="rotate(180)">100</text></g>
<g id="node-n6" transform="rotate(143.71)"><circle class="d" cx="165" r="1"/><text class="b bf" x="-150" y="7" transform="rotate(180)">100</text></g>
<g id="node-n4" transform="rotate(129.53)"><circle class="d" cx="141.5" r="1"/><text class="b bf" x="-126.5" y="7" transform="rotate(180)">100</text></g>
<g id="node-n3" transform="rotate(117.55)"><circle class="d" cx="118" r="1"/><text class="b bf" x="-102.5" y="7" transform="rotate(180)">98</text></g>
<g id="node-nb" transform="rotate(105.68)"><circle class="d" cx="94.5" r="1"/><text class="b bf" x="-69.5" y="7" transform="rotate(180)">100</text></g>
</g>
</svg>
